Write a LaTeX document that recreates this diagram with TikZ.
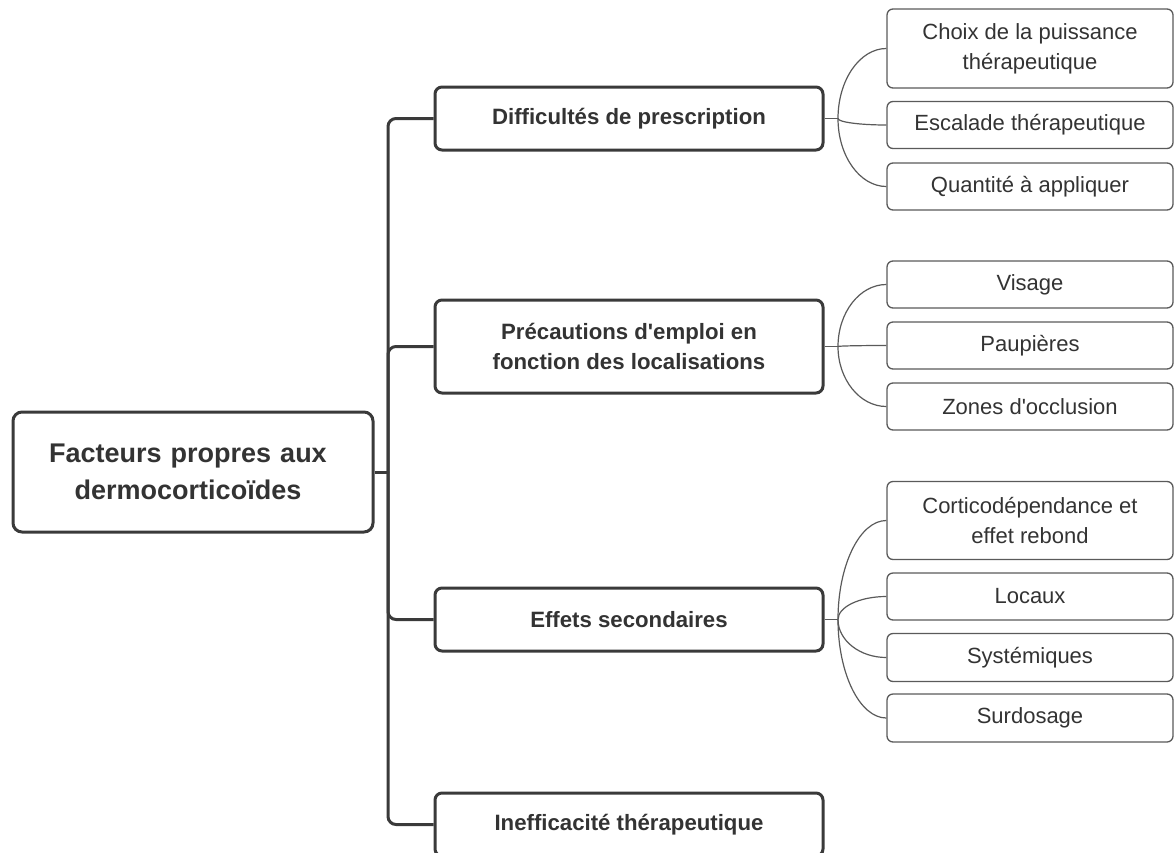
\documentclass[tikz,border=0pt]{standalone}
\usepackage{fontspec}
\usetikzlibrary{calc}
\newfontfamily\lsans{Liberation Sans}
\definecolor{boxc}{HTML}{3A3A3A}
\definecolor{leafc}{HTML}{5A5A5A}
\definecolor{txt}{HTML}{333333}
\begin{document}
\begin{tikzpicture}[x=1pt,y=-1pt,
  rootbox/.style={draw=boxc, line width=3pt, rounded corners=9pt, fill=white, text=txt,
    font=\lsans\fontsize{27}{37}\selectfont\bfseries, align=center,
    minimum width=360pt, minimum height=120pt, inner sep=0pt},
  catbox/.style={draw=boxc, line width=3pt, rounded corners=7pt, fill=white, text=txt,
    font=\lsans\fontsize{22.2}{30}\selectfont\bfseries, align=center,
    minimum width=388pt, inner sep=0pt},
  leafbox/.style={draw=leafc, line width=1.3pt, rounded corners=6pt, fill=white, text=txt,
    font=\lsans\fontsize{22}{30}\selectfont, align=center,
    minimum width=286pt, minimum height=47pt, inner sep=0pt},
  trunk/.style={draw=boxc, line width=3pt, rounded corners=8pt},
  twig/.style={draw=leafc, line width=1.2pt}]
\useasboundingbox (0,0) rectangle (1175,852);
\clip (0,0) rectangle (1175,852);

% root
\node[rootbox, text width=350pt] (root) at (193,472) {\hspace*{-10pt}Facteurs propres aux\\\hspace*{-10pt}dermocorticoïdes};

% categories
\node[catbox, minimum height=63pt] (c1) at (629,118.5) {Difficultés de prescription};
\node[catbox, minimum height=93pt] (c2) at (629,346.5) {Précautions d'emploi en\\fonction des localisations};
\node[catbox, minimum height=63pt] (c3) at (629,619.5) {Effets secondaires};
\node[catbox, minimum height=63pt] (c4) at (629,824.5) {Inefficacité thérapeutique};

% leaves
\node[leafbox, minimum height=79pt] (l11) at (1030,48.5) {Choix de la puissance\\thérapeutique};
\node[leafbox] (l12) at (1030,125) {Escalade thérapeutique};
\node[leafbox] (l13) at (1030,186.5) {Quantité à appliquer};

\node[leafbox] (l21) at (1030,284.5) {Visage};
\node[leafbox] (l22) at (1030,345.5) {Paupières};
\node[leafbox] (l23) at (1030,406.5) {Zones d'occlusion};

\node[leafbox, minimum height=78pt] (l31) at (1030,520.5) {Corticodépendance et\\effet rebond};
\node[leafbox] (l32) at (1030,596.5) {Locaux};
\node[leafbox, minimum height=48pt] (l33) at (1030,657.5) {Systémiques};
\node[leafbox, minimum height=48pt] (l34) at (1030,718) {Surdosage};

% trunk
\coordinate (tj) at (388,472);
\draw[trunk] (root.east) -- (tj);
\foreach \c in {c1,c2,c3,c4}{
  \draw[trunk] (tj) |- (\c.west);
}

% twigs
\coordinate (j1) at (838,118.5);
\coordinate (j2) at (838,346.5);
\coordinate (j3) at (838,619.5);
\draw[twig] (c1.east) -- (j1);
\draw[twig] (c2.east) -- (j2);
\draw[twig] (c3.east) -- (j3);
\foreach \j/\l in {j1/l11,j1/l12,j1/l13,j2/l21,j2/l22,j2/l23,j3/l31,j3/l32,j3/l33,j3/l34}{
  \draw[twig] (\j) .. controls ($(\j)!0.55!(\j |- \l.west)$) and ($(\l.west)!0.55!(\j |- \l.west)$) .. (\l.west);
}
\end{tikzpicture}
\end{document}
